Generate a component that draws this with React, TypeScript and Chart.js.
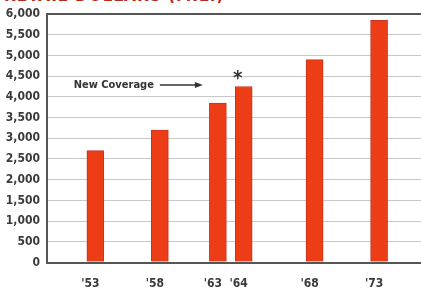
import React, { useEffect, useRef } from "react";
import { Chart, registerables } from "chart.js";

Chart.register(...registerables);

const categories = ["'53", "'58", "'63", "'64", "'68", "'73"];
const values = [2700, 3200, 3850, 4250, 4900, 5850];
// category slot of each bar on the (unevenly spaced) time axis
const slotIndex = [7, 17, 26, 30, 41, 51];
const slotCount = 58;
const yTicks = [0, 500, 1000, 1500, 2000, 2500, 3000, 3500, 4000, 4500, 5000, 5500, 6000];
const annotationText = "New Coverage";
const titleText = "RETAIL DOLLARS (MIL.)";

const FONT = "'DejaVu Sans Condensed', 'Liberation Sans Narrow', sans-serif";

export default function App() {
  const ref = useRef<HTMLCanvasElement>(null);
  useEffect(() => {
    const labels: string[] = [];
    const data: (number | null)[] = [];
    for (let i = 0; i < slotCount; i++) {
      const k = slotIndex.indexOf(i);
      labels.push(k >= 0 ? categories[k] : "");
      data.push(k >= 0 ? values[k] : null);
    }
    const annot = {
      id: "annot",
      afterDatasetsDraw(chart: any) {
        const { ctx, scales } = chart;
        const x63 = scales.x.getPixelForValue(slotIndex[2]);
        const x64 = scales.x.getPixelForValue(slotIndex[3]);
        const yBar63 = scales.y.getPixelForValue(values[2]);
        const y64 = scales.y.getPixelForValue(values[3]);
        const yLine = yBar63 - 18;
        const tip = x63 - 15;
        ctx.save();
        ctx.fillStyle = "#333";
        ctx.strokeStyle = "#333";
        ctx.font = `bold 11px ${FONT}`;
        ctx.textAlign = "right";
        ctx.textBaseline = "middle";
        ctx.fillText(annotationText, tip - 49, yLine);
        ctx.lineWidth = 1.5;
        ctx.beginPath();
        ctx.moveTo(tip - 43, yLine);
        ctx.lineTo(tip - 4, yLine);
        ctx.stroke();
        ctx.beginPath();
        ctx.moveTo(tip, yLine);
        ctx.lineTo(tip - 8, yLine - 3);
        ctx.lineTo(tip - 8, yLine + 3);
        ctx.closePath();
        ctx.fill();
        ctx.font = `bold 20px ${FONT}`;
        ctx.textAlign = "center";
        ctx.fillText("*", x64 - 6, y64 - 8);
        ctx.restore();
      },
    };
    const chart = new Chart(ref.current!, {
      type: "bar",
      data: {
        labels,
        datasets: [
          {
            data,
            backgroundColor: "#ec3d17",
            borderColor: "#c9321a",
            borderWidth: 1,
            barThickness: 17,
            skipNull: true,
          } as any,
        ],
      },
      options: {
        animation: false,
        responsive: false,
        maintainAspectRatio: false,
        layout: { padding: { top: 14, right: 0, left: 0, bottom: 0 } },
        plugins: { legend: { display: false }, tooltip: { enabled: false } },
        scales: {
          x: {
            type: "category",
            grid: { display: false, drawTicks: false },
            border: { display: false },
            afterFit(scale: any) {
              scale.height = 28.5;
              scale.paddingLeft = 0;
              scale.paddingRight = 0;
            },
            ticks: {
              autoSkip: false,
              maxRotation: 0,
              padding: 14,
              labelOffset: -5,
              color: "#3a3a3a",
              font: { family: FONT, size: 12, weight: "bold" },
            },
          },
          y: {
            min: 0,
            max: 6000,
            afterFit(scale: any) {
              scale.width = 47;
              scale.paddingTop = 0;
              scale.paddingBottom = 0;
            },
            afterBuildTicks(scale: any) {
              scale.ticks = yTicks.map((v) => ({ value: v }));
            },
            grid: {
              drawTicks: false,
              color: (c: any) =>
                c.tick && (c.tick.value === 6000 || c.tick.value === 0) ? "#555" : "#c8c8c8",
              lineWidth: (c: any) =>
                c.tick && (c.tick.value === 6000 || c.tick.value === 0) ? 2 : 1,
            },
            border: { color: "#555", width: 2 },
            ticks: {
              padding: 7,
              color: "#3a3a3a",
              font: { family: FONT, size: 12, weight: "bold" },
              callback: (v: any) => Number(v).toLocaleString("en-US"),
            },
          },
        },
      },
      plugins: [annot],
    });
    return () => chart.destroy();
  }, []);
  return (
    <div style={{ position: "absolute", left: 0, top: 0, width: 421, height: 291, overflow: "hidden", background: "#fff" }}>
      <div
        style={{
          position: "absolute",
          left: 4,
          top: -15,
          color: "#b8281c",
          fontFamily: FONT,
          fontWeight: "bold",
          fontSize: 17,
          letterSpacing: 1,
          whiteSpace: "nowrap",
        }}
      >
        {titleText}
      </div>
      <canvas ref={ref} width={421} height={291} style={{ position: "absolute", left: 0, top: 0 }} />
    </div>
  );
}
